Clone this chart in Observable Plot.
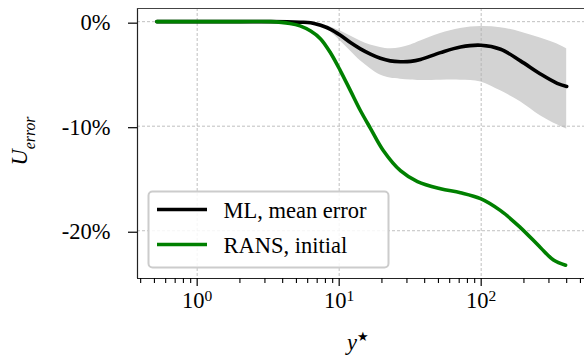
<!DOCTYPE html>
<html><head><meta charset="utf-8">
<script src="https://cdn.jsdelivr.net/npm/d3@7"></script>
<script src="https://cdn.jsdelivr.net/npm/@observablehq/plot@0.6"></script>
<style>
body{margin:0;background:#fff}
#chart svg{display:block}
#chart svg text{font-family:'Liberation Serif','DejaVu Serif',serif}
</style>
</head><body><div id="chart"></div>
<script>
// ML model: mean error and its spread band (% error vs y*)
const mlYStar = [0.52, 1, 2, 3.3, 5.3, 6.3, 7.4, 8.7, 10.2, 12, 14.1, 16.6, 19.5, 22.9, 27, 31.9, 37.4, 51.7, 71.5, 99.5, 137, 189, 261, 343, 400];
const mlMean  = [0, 0, 0, 0, -0.05, -0.1, -0.35, -0.73, -1.3, -2.0, -2.6, -3.1, -3.5, -3.75, -3.83, -3.8, -3.62, -2.96, -2.42, -2.25, -2.64, -3.75, -5.0, -5.9, -6.2];
const mlLower = [0, 0, 0, 0, 0, -0.05, -0.27, -1.0, -1.85, -2.8, -3.75, -4.5, -5.1, -5.4, -5.5, -5.57, -5.62, -5.6, -5.6, -5.76, -6.62, -7.67, -9.0, -9.87, -10.28];
const mlUpper = [0, 0, 0, 0, 0, 0, -0.2, -0.5, -0.9, -1.37, -1.85, -2.23, -2.46, -2.6, -2.5, -2.23, -1.85, -1.13, -0.65, -0.46, -0.57, -0.98, -1.56, -2.13, -2.6];
// RANS initial error
const ransYStar = [0.52, 2, 3.3, 4.5, 5.3, 6.3, 7.4, 8.7, 10.2, 12, 14.1, 16.6, 20.5, 27, 35.6, 51.7, 71.5, 99, 137, 189, 261, 323, 393];
const ransError = [0, 0, 0, -0.17, -0.4, -0.9, -1.65, -3.0, -4.7, -6.6, -8.5, -10.2, -12.35, -14.26, -15.3, -15.98, -16.36, -16.93, -18.08, -19.7, -21.6, -22.8, -23.3];
// ticks and labels
const xMajorTicks = [1, 10, 100];
const xMinorTicks = [0.4, 0.5, 0.6, 0.7, 0.8, 0.9, 2, 3, 4, 5, 6, 7, 8, 9, 20, 30, 40, 50, 60, 70, 80, 90, 200, 300, 400, 500];
const yTicks = [0, -10, -20];
const seriesLabels = ["ML, mean error", "RANS, initial"];
const seriesColors = ["#000000", "#008000"];

const ml = mlYStar.map((x, i) => ({x, mean: mlMean[i], lo: mlLower[i], hi: mlUpper[i]}));
const rans = ransYStar.map((x, i) => ({x, v: ransError[i]}));

const xDomain = [0.38, 534];
const yDomain = [-24.57, 1.26];
const FONT = "'Liberation Serif', 'DejaVu Serif', serif";
const gridStyle = {stroke: "#b0b0b0", strokeOpacity: 1, strokeWidth: 0.8, strokeDasharray: "3,2"};

const chart = Plot.plot({
  width: 584, height: 361,
  marginLeft: 137, marginRight: 0, marginTop: 8, marginBottom: 83,
  style: {fontFamily: FONT, fontSize: "22.5px", background: "#fff", color: "#000"},
  x: {type: "log", domain: xDomain},
  y: {domain: yDomain},
  marks: [
    Plot.areaY(ml, {x: "x", y1: "lo", y2: "hi", fill: "#d3d3d3", curve: "catmull-rom"}),
    Plot.gridX(xMajorTicks, gridStyle),
    Plot.gridY(yTicks, gridStyle),
    Plot.lineY(ml, {x: "x", y: "mean", stroke: seriesColors[0], strokeWidth: 3.6, curve: "catmull-rom"}),
    Plot.lineY(rans, {x: "x", y: "v", stroke: seriesColors[1], strokeWidth: 3.6, curve: "catmull-rom"}),
    Plot.ruleX([xDomain[0]], {stroke: "#222", strokeWidth: 1.2}),
    Plot.ruleY([yDomain[0]], {stroke: "#222", strokeWidth: 1.2}),
    Plot.ruleY([yDomain[1]], {stroke: "#444", strokeWidth: 1.2}),
    Plot.axisX({ticks: xMinorTicks, tickSize: 5, tickFormat: () => "", label: null, strokeWidth: 1.1}),
    Plot.axisX({ticks: xMajorTicks, tickSize: 8, tickPadding: 6, tickFormat: d => "10^" + Math.round(Math.log10(d)), label: null, strokeWidth: 1.2}),
    Plot.axisY({ticks: yTicks, tickSize: 9, tickPadding: 18, dy: 1.5, tickFormat: d => `${d}%`, label: null, strokeWidth: 1.2})
  ]
});
chart.style.fontFamily = FONT;
document.getElementById("chart").appendChild(chart);

const svg = d3.select(chart);
// superscript exponents on x tick labels
svg.selectAll('g[aria-label="x-axis tick label"] text').each(function() {
  const t = this.textContent;
  if (!t || t.indexOf("^") < 0) return;
  const [base, exp] = t.split("^");
  const el = d3.select(this);
  el.text(base);
  el.append("tspan").attr("dy", "-0.5em").attr("font-size", "15.5px").text(exp);
});

// y-axis label U_error
const yl = svg.append("text").attr("transform", "translate(27,141) rotate(-90)")
  .attr("text-anchor", "middle").attr("font-family", FONT).attr("font-size", 22.5)
  .attr("font-style", "italic").attr("fill", "#000");
yl.append("tspan").text("U");
yl.append("tspan").attr("dy", "0.5em").attr("font-size", 15.75).text("error");

// x-axis label y*
const xl = svg.append("text").attr("x", 358).attr("y", 350)
  .attr("text-anchor", "middle").attr("font-family", FONT).attr("font-size", 22.5).attr("fill", "#000");
xl.append("tspan").attr("font-style", "italic").text("y");
xl.append("tspan").attr("dy", "-0.7em").attr("font-size", 13).text("★");

// legend
const lg = svg.append("g").attr("text-anchor", "start");
lg.append("rect").attr("x", 148.5).attr("y", 191.5).attr("width", 240).attr("height", 76).attr("rx", 4)
  .attr("fill", "#fff").attr("fill-opacity", 0.85).attr("stroke", "#cccccc").attr("stroke-width", 2);
seriesLabels.forEach((lab, i) => {
  const yy = 209.5 + i * 35;
  lg.append("line").attr("x1", 157).attr("x2", 207).attr("y1", yy).attr("y2", yy)
    .attr("stroke", seriesColors[i]).attr("stroke-width", 3.6);
  lg.append("text").attr("x", 223.5).attr("y", yy + 8.5).attr("text-anchor", "start").attr("font-family", FONT)
    .attr("font-size", 22.5).attr("fill", "#000").text(lab);
});
</script>
</body></html>
